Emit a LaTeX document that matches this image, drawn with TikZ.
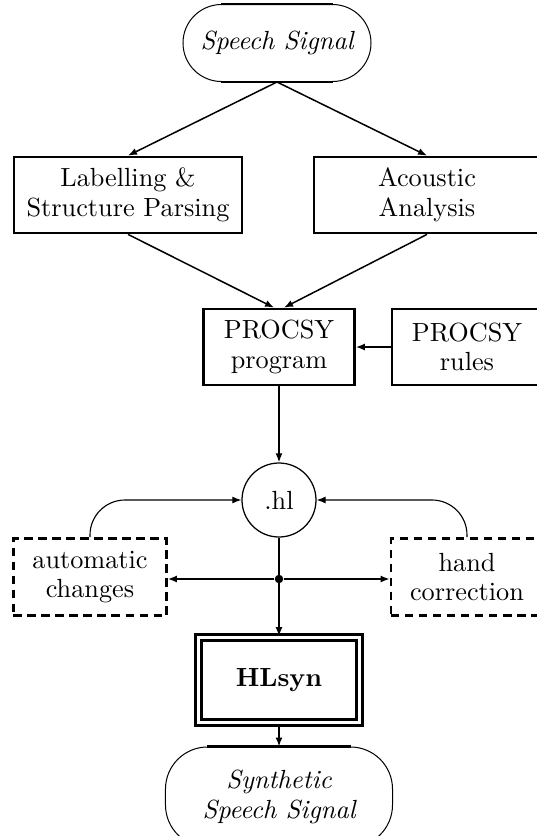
\documentclass[tikz,border=0pt]{standalone}
\usepackage{tikz}
\usetikzlibrary{arrows.meta}
\newcommand{\diagfont}{\fontsize{10.5}{11.8}\selectfont}

\begin{document}
\begin{tikzpicture}[x=0.4pt, y=-0.4pt,
    every node/.style={font=\diagfont, align=center, inner sep=0pt},
    box/.style={draw, line width=1.1pt, minimum height=30.4pt},
    dashbox/.style={box, dash pattern=on 3.4pt off 2.2pt, minimum height=30.8pt},
    oval/.style={draw, line width=0.4pt, font=\diagfont\itshape},
    link/.style={-{Latex[length=3.6pt, width=2.8pt]}, line width=0.6pt},
    curvelink/.style={link, line width=0.45pt, rounded corners=14pt}]
    \clip (0,0) rectangle (537,836);
    % Nodes
    \node[oval, minimum width=75.2pt, minimum height=30.8pt, rounded corners=15.4pt] (sig) at (277,43) {Speech Signal};
    \node[box, minimum width=91.2pt] (lab) at (128,195) {Labelling \&\\Structure Parsing};
    \node[box, minimum width=90.4pt] (aco) at (427,195) {Acoustic\\Analysis};
    \node[box, minimum width=60.4pt] (prog) at (279,347) {PROCSY\\program};
    \node[box, minimum width=60pt] (rules) at (467,347) {PROCSY\\rules};
    \node[draw, circle, line width=0.5pt, minimum size=29.6pt] (hl) at (279,500) {.hl};
    \node[dashbox, minimum width=61.2pt] (auto) at (90,577) {automatic\\changes};
    \node[dashbox, minimum width=60.8pt] (hand) at (467,577) {hand\\correction};
    \node[fill, circle, minimum size=3.4pt] (dot) at (279,579) {};
    \node[draw, line width=1.1pt, double, double distance=1.5pt, minimum width=64.4pt, minimum height=34pt, font=\diagfont\bfseries] (hlsyn) at (279,680) {HLsyn};
    \node[oval, minimum width=90.8pt, minimum height=40pt, rounded corners=16.8pt] (syn) at (279,797) {Synthetic\\Speech Signal};
    % heavy straight sides of the ovals
    \draw[line width=1pt] ([xshift=15.4pt]sig.north west) -- ([xshift=-15.4pt]sig.north east);
    \draw[line width=1pt] ([xshift=15.4pt]sig.south west) -- ([xshift=-15.4pt]sig.south east);
    \draw[line width=1pt] ([xshift=16.8pt]syn.north west) -- ([xshift=-16.8pt]syn.north east);
    % Edges
    \draw[link] (sig.south) -- (lab.north);
    \draw[link] (sig.south) -- (aco.north);
    \draw[link] (lab.south) -- ([xshift=-2pt]prog.north);
    \draw[link] (aco.south) -- ([xshift=2pt]prog.north);
    \draw[link] (rules) -- (prog);
    \draw[link] (prog) -- (hl);
    \draw[curvelink] (auto.north) |- (hl.west);
    \draw[curvelink] (hand.north) |- (hl.east);
    \draw[link] (hl) -- (hlsyn);
    \draw[link] (dot) -- (auto.east |- dot);
    \draw[link] (dot) -- (hand.west |- dot);
    \draw[link] (hlsyn) -- (syn);
\end{tikzpicture}
\end{document}
